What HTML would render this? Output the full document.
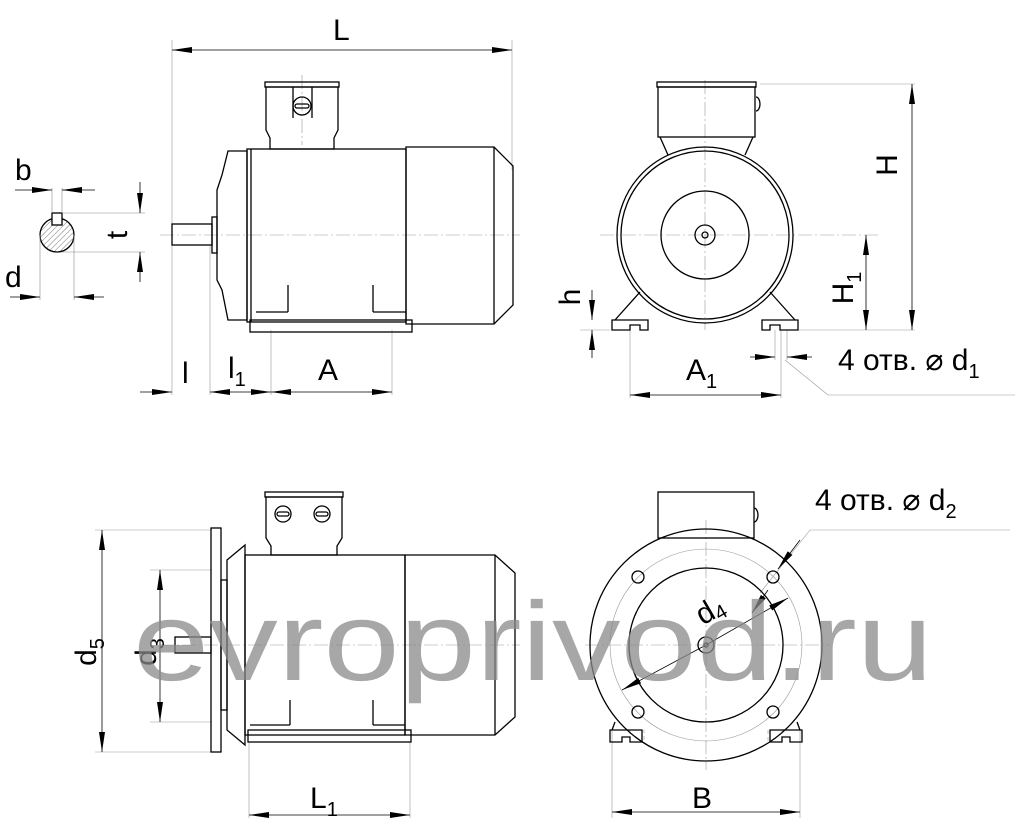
<!DOCTYPE html>
<html><head><meta charset="utf-8"><style>
html,body{margin:0;padding:0;background:#fff}
svg{display:block}
text{font-family:"Liberation Sans",sans-serif;fill:#000}
</style></head><body>
<svg width="1024" height="825" viewBox="0 0 1024 825" xmlns="http://www.w3.org/2000/svg">
<defs>
<marker id="a" viewBox="0 0 20 8" refX="20" refY="4" markerWidth="20" markerHeight="8" orient="auto-start-reverse" markerUnits="userSpaceOnUse"><path d="M0,1 L20,4 L0,7 Z" fill="#000"/></marker>
<pattern id="h" width="4" height="4" patternUnits="userSpaceOnUse" patternTransform="rotate(45)"><line x1="0" y1="0" x2="0" y2="4" stroke="#555" stroke-width="0.8"/></pattern>
</defs>
<g stroke="#000" fill="none" stroke-width="1.3">
<g stroke="#999" stroke-width="0.6">
<line x1="172" y1="40" x2="172" y2="395"/><line x1="512" y1="40" x2="512" y2="170"/>
<line x1="210" y1="245" x2="210" y2="395"/><line x1="271" y1="330" x2="271" y2="395"/><line x1="392" y1="330" x2="392" y2="395"/>
<line x1="160" y1="235" x2="520" y2="235" stroke-dasharray="14,3,2,3"/>
<line x1="302" y1="75" x2="302" y2="145" stroke-dasharray="14,3,2,3"/>
</g>
<line x1="172" y1="50" x2="512" y2="50" stroke-width="0.8" marker-start="url(#a)" marker-end="url(#a)"/>
<line x1="140" y1="392" x2="172" y2="392" stroke-width="0.8" marker-end="url(#a)"/>
<line x1="210" y1="392" x2="250" y2="392" stroke-width="0.8" marker-start="url(#a)"/>
<line x1="250" y1="392" x2="271" y2="392" stroke-width="0.8" marker-end="url(#a)"/>
<line x1="271" y1="392" x2="392" y2="392" stroke-width="0.8" marker-start="url(#a)" marker-end="url(#a)"/>
<rect x="172" y="224" width="40" height="21"/>
<rect x="212" y="217" width="5" height="36"/>
<path d="M217,190 L222,175 L228,151 L247,151 L247,320 L228,320 L222,290 L217,280 Z"/>
<rect x="247" y="149" width="159" height="173"/>
<line x1="251" y1="149" x2="251" y2="322"/>
<path d="M406,147 L494,147 L513,166 L513,305 L494,324 L406,324 Z"/><line x1="494" y1="147" x2="494" y2="324"/>
<rect x="265" y="82" width="74" height="5"/>
<path d="M266,87 L338,87 L338,130 L334,138 L334,149 L270,149 L270,138 L266,130 Z"/>
<line x1="293" y1="87" x2="293" y2="118"/><line x1="312" y1="87" x2="312" y2="118"/>
<circle cx="302" cy="106" r="9"/><rect x="295" y="104" width="14" height="4" rx="2"/>
<line x1="288" y1="285" x2="288" y2="312"/><line x1="373" y1="285" x2="373" y2="312"/>
<line x1="256" y1="312" x2="288" y2="312"/><line x1="373" y1="312" x2="406" y2="312"/>
<rect x="250" y="320" width="162" height="12"/>
<circle cx="57" cy="235" r="17" fill="url(#h)"/>
<rect x="52" y="213" width="10" height="12" fill="#fff"/>
<g stroke="#888" stroke-width="0.6"><line x1="62" y1="213" x2="145" y2="213"/><line x1="62" y1="252" x2="145" y2="252"/><line x1="52" y1="188" x2="52" y2="213"/><line x1="62" y1="188" x2="62" y2="213"/><line x1="40" y1="235" x2="40" y2="300"/><line x1="74" y1="235" x2="74" y2="300"/></g>
<line x1="15" y1="190" x2="52" y2="190" stroke-width="0.8" marker-end="url(#a)"/>
<line x1="95" y1="190" x2="62" y2="190" stroke-width="0.8" marker-end="url(#a)"/>
<line x1="140" y1="182" x2="140" y2="213" stroke-width="0.8" marker-end="url(#a)"/>
<line x1="140" y1="282" x2="140" y2="252" stroke-width="0.8" marker-end="url(#a)"/>
<line x1="10" y1="297" x2="40" y2="297" stroke-width="0.8" marker-end="url(#a)"/>
<line x1="104" y1="297" x2="74" y2="297" stroke-width="0.8" marker-end="url(#a)"/>
<g stroke="#999" stroke-width="0.6">
<line x1="600" y1="235" x2="880" y2="235" stroke-dasharray="14,3,2,3"/>
<line x1="705" y1="80" x2="705" y2="330" stroke-dasharray="14,3,2,3"/>
<line x1="760" y1="84" x2="915" y2="84"/><line x1="790" y1="330" x2="915" y2="330"/>
<line x1="630" y1="330" x2="630" y2="398"/><line x1="781" y1="330" x2="781" y2="398"/>
<line x1="775" y1="330" x2="775" y2="360"/><line x1="787" y1="330" x2="787" y2="360"/>
<line x1="580" y1="330" x2="610" y2="330"/>
<line x1="785" y1="360" x2="828" y2="395"/><line x1="828" y1="395" x2="1015" y2="395"/>
</g>
<rect x="657" y="82" width="99" height="5"/><rect x="658" y="87" width="97" height="50"/>
<path d="M756,97 a4,7 0 0 1 0,14"/>
<path d="M660,137 L668,155 M753,137 L745,155"/>
<circle cx="705" cy="235" r="88"/><circle cx="705" cy="235" r="84"/>
<circle cx="705" cy="235" r="44"/><circle cx="705" cy="235" r="10"/><circle cx="705" cy="235" r="3"/>
<path d="M640,292 L615,320 M770,292 L795,320"/>
<path d="M612,320 L648,320 L648,330 L640,330 L640,325 L630,325 L630,330 L612,330 Z"/>
<path d="M762,320 L798,320 L798,330 L780,330 L780,325 L770,325 L770,330 L762,330 Z"/>
<line x1="912" y1="84" x2="912" y2="330" stroke-width="0.8" marker-start="url(#a)" marker-end="url(#a)"/>
<line x1="866" y1="235" x2="866" y2="330" stroke-width="0.8" marker-start="url(#a)" marker-end="url(#a)"/>
<line x1="592" y1="290" x2="592" y2="320" stroke-width="0.8" marker-end="url(#a)"/>
<line x1="592" y1="358" x2="592" y2="330" stroke-width="0.8" marker-end="url(#a)"/>
<line x1="630" y1="395" x2="781" y2="395" stroke-width="0.8" marker-start="url(#a)" marker-end="url(#a)"/>
<line x1="750" y1="357" x2="775" y2="357" stroke-width="0.8" marker-end="url(#a)"/>
<line x1="812" y1="357" x2="787" y2="357" stroke-width="0.8" marker-end="url(#a)"/>
<g stroke="#999" stroke-width="0.6">
<line x1="160" y1="645" x2="520" y2="645" stroke-dasharray="14,3,2,3"/>
<line x1="95" y1="530" x2="212" y2="530"/><line x1="95" y1="752" x2="212" y2="752"/>
<line x1="150" y1="570" x2="212" y2="570"/><line x1="150" y1="722" x2="212" y2="722"/>
<line x1="249" y1="742" x2="249" y2="818"/><line x1="410" y1="742" x2="410" y2="818"/>
</g>
<line x1="102" y1="530" x2="102" y2="752" stroke-width="0.8" marker-start="url(#a)" marker-end="url(#a)"/>
<line x1="160" y1="570" x2="160" y2="722" stroke-width="0.8" marker-start="url(#a)" marker-end="url(#a)"/>
<line x1="249" y1="815" x2="410" y2="815" stroke-width="0.8" marker-start="url(#a)" marker-end="url(#a)"/>
<rect x="175" y="637" width="36" height="16"/>
<rect x="211" y="528" width="10" height="224"/>
<rect x="221" y="580" width="6" height="130"/>
<path d="M227,560 L245,545 L245,745 L227,730 Z"/>
<rect x="245" y="555" width="160" height="180"/>
<path d="M405,555 L495,555 L515,573 L515,717 L495,735 L405,735 Z"/><line x1="495" y1="555" x2="495" y2="735"/>
<rect x="265" y="492" width="78" height="5"/>
<path d="M266,497 L342,497 L342,538 L337,546 L337,555 L271,555 L271,546 L266,538 Z"/>
<circle cx="283" cy="514" r="8"/><rect x="277" y="512" width="12" height="4" rx="2"/>
<circle cx="322" cy="514" r="8"/><rect x="316" y="512" width="12" height="4" rx="2"/>
<line x1="290" y1="700" x2="290" y2="725"/><line x1="373" y1="700" x2="373" y2="725"/>
<line x1="250" y1="725" x2="290" y2="725"/><line x1="373" y1="725" x2="405" y2="725"/>
<rect x="248" y="730" width="163" height="12"/>
<g stroke="#999" stroke-width="0.6">
<line x1="585" y1="645" x2="830" y2="645" stroke-dasharray="14,3,2,3"/>
<line x1="706" y1="520" x2="706" y2="770" stroke-dasharray="14,3,2,3"/>
<circle cx="706" cy="645" r="96"/>
<line x1="612" y1="730" x2="612" y2="818"/><line x1="800" y1="730" x2="800" y2="818"/>
<line x1="760" y1="593" x2="810" y2="530"/><line x1="810" y1="530" x2="1010" y2="530"/>
<path d="M630,730 v12 h14 v-12 M768,730 v12 h14 v-12" stroke-dasharray="4,3"/>
</g>
<rect x="658" y="492" width="96" height="46"/>
<path d="M754,508 a4,7 0 0 1 0,14"/>
<circle cx="706" cy="645" r="116"/>
<circle cx="706" cy="645" r="77"/>
<circle cx="638" cy="577" r="6"/><circle cx="773" cy="577" r="6"/><circle cx="638" cy="712" r="6"/><circle cx="773" cy="712" r="6"/>
<circle cx="706" cy="645" r="8"/><circle cx="706" cy="645" r="2"/>
<path d="M615,722 L612,730 M797,722 L800,730"/>
<path d="M610,730 L642,730 L642,742 L630,742 L630,737 L622,737 L622,742 L610,742 Z M770,730 L802,730 L802,742 L790,742 L790,737 L782,737 L782,742 L770,742 Z"/>
<line x1="612" y1="812" x2="800" y2="812" stroke-width="0.8" marker-start="url(#a)" marker-end="url(#a)"/>
<line x1="706" y1="645" x2="622" y2="690" stroke-width="0.8" marker-end="url(#a)"/>
<line x1="706" y1="645" x2="788" y2="598" stroke-width="0.8" marker-end="url(#a)"/>
<line x1="800" y1="540" x2="778" y2="569" stroke-width="0.8" marker-end="url(#a)"/>
<line x1="752" y1="613" x2="768" y2="590" stroke-width="0.8" marker-start="url(#a)"/>
</g>
<g font-size="30">
<text x="333" y="40">L</text>
<text x="15" y="180">b</text>
<text x="5" y="287">d</text>
<text transform="translate(127,235) rotate(-90)" text-anchor="middle">t</text>
<text x="182" y="383">l</text>
<text x="228" y="378">l<tspan font-size="20" dy="8">1</tspan></text>
<text x="318" y="380">A</text>
<text x="686" y="380">A<tspan font-size="20" dy="8">1</tspan></text>
<text transform="translate(897,165) rotate(-90)" text-anchor="middle">H</text>
<text transform="translate(853,288) rotate(-90)" text-anchor="middle">H<tspan font-size="20" dy="8">1</tspan></text>
<text transform="translate(580,297) rotate(-90)" text-anchor="middle">h</text>
<text x="838" y="370">4 отв. ⌀ d<tspan font-size="20" dy="8">1</tspan></text>
<text x="815" y="510">4 отв. ⌀ d<tspan font-size="20" dy="8">2</tspan></text>
<text transform="translate(96,652) rotate(-90)" text-anchor="middle">d<tspan font-size="20" dy="8">5</tspan></text>
<text transform="translate(156,652) rotate(-90)" text-anchor="middle">d<tspan font-size="20" dy="8">3</tspan></text>
<text x="310" y="808">L<tspan font-size="20" dy="8">1</tspan></text>
<text x="692" y="808">B</text>
<text x="696" y="620" transform="rotate(-30 710 610)">d<tspan font-size="20" dy="4">4</tspan></text>
</g>
<text x="133" y="680" font-size="112" style="fill:#8a8a8a" fill-opacity="0.75" textLength="800" lengthAdjust="spacingAndGlyphs">evroprivod.ru</text>
</svg>
</body></html>
